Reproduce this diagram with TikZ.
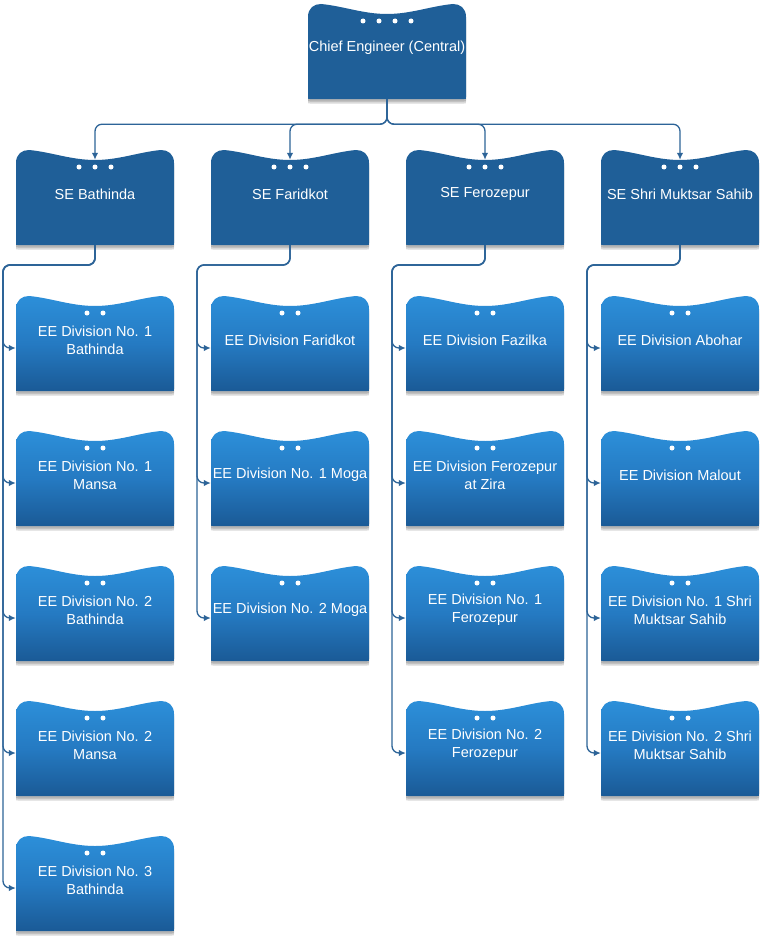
\documentclass[tikz,border=0pt]{standalone}
\usepackage{fontspec}
\setmainfont{Liberation Sans}
\usetikzlibrary{arrows.meta,shadows}
\definecolor{sefill}{RGB}{31,95,152}
\definecolor{eetop}{RGB}{44,143,217}
\definecolor{eemid}{RGB}{37,122,194}
\definecolor{eebot}{RGB}{26,90,150}
\definecolor{linecol}{RGB}{45,100,152}
\pgfdeclarelayer{bg}
\pgfsetlayers{bg,main}
\tikzset{
  boxframe/.style={rectangle, draw=none, minimum width=158pt, minimum height=95pt, inner sep=0pt},
  boxtext/.style={text=white, align=center, font=\fontsize{14.5}{18}\selectfont, inner sep=0pt},
  boxshadow/.style={drop shadow={opacity=0.15, shadow xshift=0pt, shadow yshift=-4.5pt, fill=black},
                    drop shadow={opacity=0.25, shadow xshift=0pt, shadow yshift=-2.5pt, fill=black!70}},
  darkbox/.style={fill=sefill, boxshadow},
  lightbox/.style={top color=eetop, bottom color=eebot, middle color=eemid, boxshadow},
  conn/.style={draw=linecol, line width=1.3pt, rounded corners=7pt, -{Latex[length=7pt,width=6.5pt]}},
}
\newcommand\orgbox[6]{%
  \node[boxframe] (#1) at ({#2},{#3+47.5}) {};
  \begin{pgfonlayer}{bg}
    \begin{scope}[shift={({#2-79},{#3})}]
      \path[#5] (0,93) -- (0,13) .. controls (0,4) and (6,0) .. (13,0)
        .. controls (35,2) and (55,10) .. (79,10)
        .. controls (103,10) and (123,2) .. (145,0)
        .. controls (152,0) and (158,4) .. (158,13) -- (158,93)
        .. controls (158,95) .. (156,95) -- (2,95) .. controls (0,95) .. (0,93) -- cycle;
    \end{scope}
  \end{pgfonlayer}
  \node[boxtext] (#1-t) at ({#2},{#3+44}) {#6};
  \foreach \k in {1,...,#4} \fill[white] ({#2+(\k-(#4+1)/2)*16},{#3+17}) circle (2.5pt);
}
\begin{document}
\begin{tikzpicture}[x=1pt,y=-1pt]
\begin{pgfonlayer}{bg}
  \fill[white] (0,0) rectangle (768,942);
\end{pgfonlayer}
\path[use as bounding box] (0,0) rectangle (768,942);

\orgbox{ce}{387}{4}{4}{darkbox}{Chief Engineer (Central)}

\orgbox{se1}{95}{150}{3}{darkbox}{SE Bathinda}
\orgbox{se2}{290}{150}{3}{darkbox}{SE Faridkot}
\orgbox{se3}{485}{150}{3}{darkbox}{SE Ferozepur}
\orgbox{se4}{680}{150}{3}{darkbox}{SE Shri Muktsar Sahib}

\orgbox{ee11}{95}{296}{2}{lightbox}{EE Division No. 1\\Bathinda}
\orgbox{ee12}{95}{431}{2}{lightbox}{EE Division No. 1\\Mansa}
\orgbox{ee13}{95}{566}{2}{lightbox}{EE Division No. 2\\Bathinda}
\orgbox{ee14}{95}{701}{2}{lightbox}{EE Division No. 2\\Mansa}
\orgbox{ee15}{95}{836}{2}{lightbox}{EE Division No. 3\\Bathinda}

\orgbox{ee21}{290}{296}{2}{lightbox}{EE Division Faridkot}
\orgbox{ee22}{290}{431}{2}{lightbox}{EE Division No. 1 Moga}
\orgbox{ee23}{290}{566}{2}{lightbox}{EE Division No. 2 Moga}

\orgbox{ee31}{485}{296}{2}{lightbox}{EE Division Fazilka}
\orgbox{ee32}{485}{431}{2}{lightbox}{EE Division Ferozepur\\at Zira}
\orgbox{ee33}{485}{566}{2}{lightbox}{EE Division No. 1\\Ferozepur}
\orgbox{ee34}{485}{701}{2}{lightbox}{EE Division No. 2\\Ferozepur}

\orgbox{ee41}{680}{296}{2}{lightbox}{EE Division Abohar}
\orgbox{ee42}{680}{431}{2}{lightbox}{EE Division Malout}
\orgbox{ee43}{680}{566}{2}{lightbox}{EE Division No. 1 Shri\\Muktsar Sahib}
\orgbox{ee44}{680}{701}{2}{lightbox}{EE Division No. 2 Shri\\Muktsar Sahib}

% top level connectors
\foreach \s in {se1,se2,se3,se4}
  \draw[conn] (ce.south) -- ++(0,25) -| ([yshift=-10pt]\s.north);

% bus coordinates
\coordinate (b1) at (3,265);
\coordinate (b2) at (197,265);
\coordinate (b3) at (392,265);
\coordinate (b4) at (587,265);

\foreach \r in {1,...,5}
  \draw[conn] (se1.south) |- (b1) |- ([yshift=-4.5pt]ee1\r.west);
\foreach \r in {1,...,3}
  \draw[conn] (se2.south) |- (b2) |- ([yshift=-4.5pt]ee2\r.west);
\foreach \r in {1,...,4}
  \draw[conn] (se3.south) |- (b3) |- ([yshift=-4.5pt]ee3\r.west);
\foreach \r in {1,...,4}
  \draw[conn] (se4.south) |- (b4) |- ([yshift=-4.5pt]ee4\r.west);
\end{tikzpicture}
\end{document}
